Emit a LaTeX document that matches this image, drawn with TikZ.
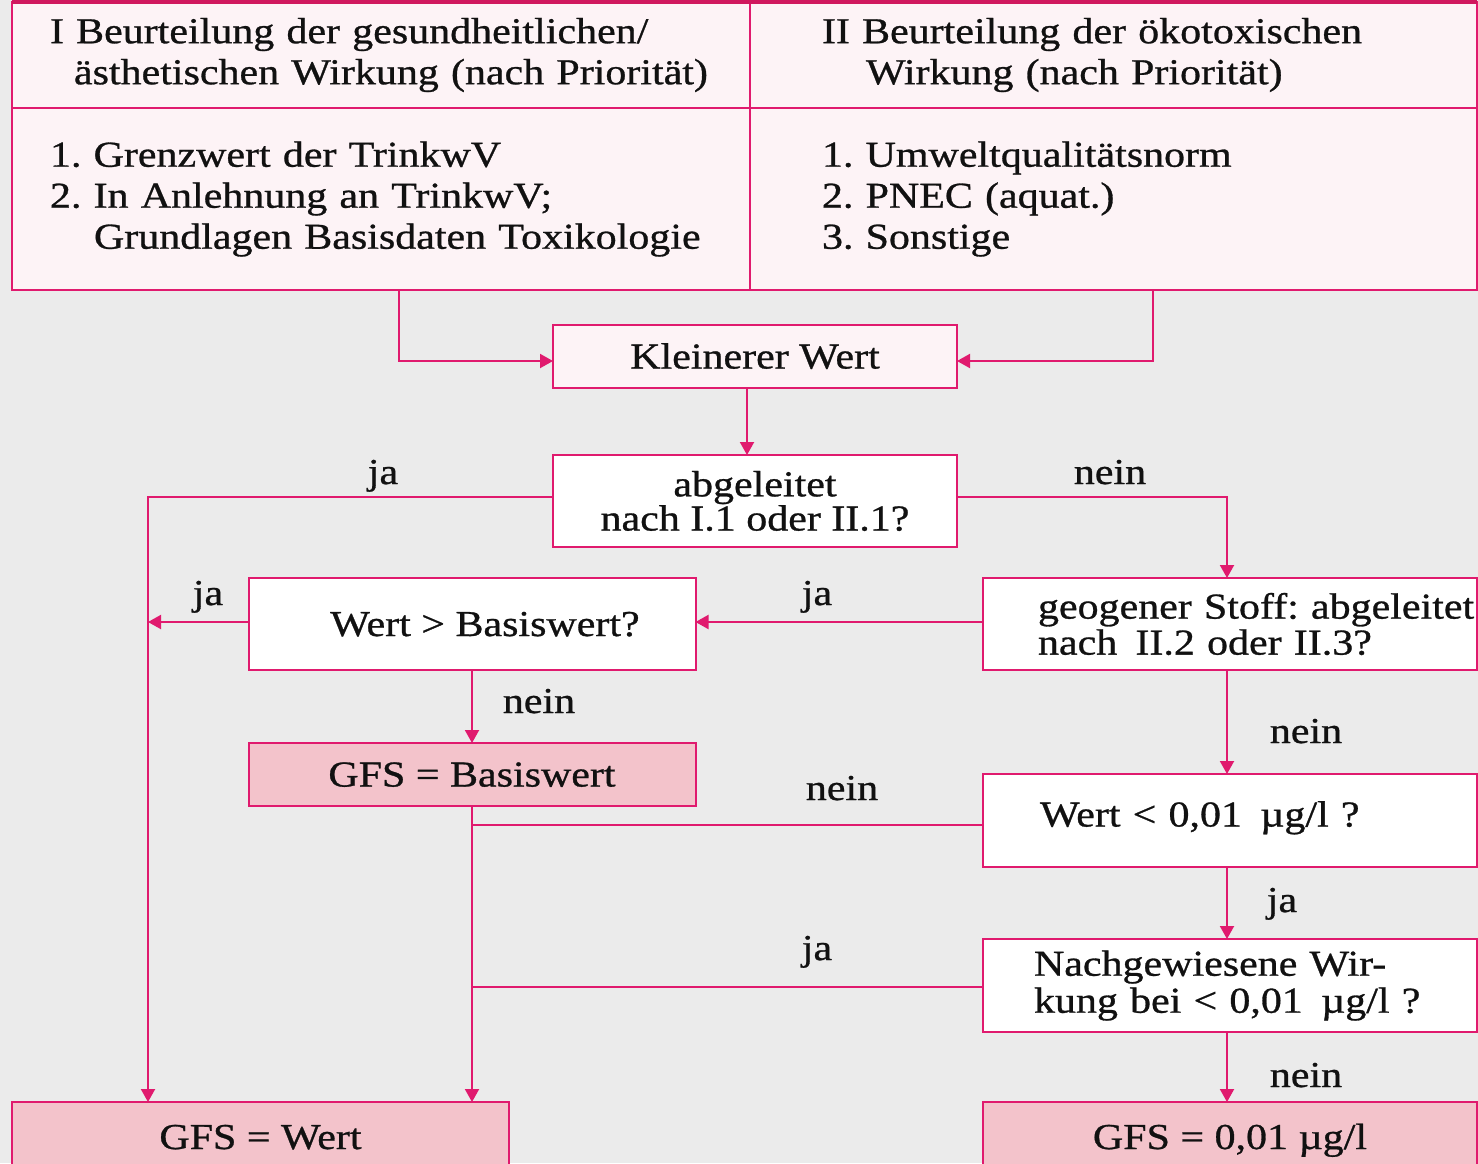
\documentclass[tikz,border=0pt]{standalone}
\usepackage{fontspec}
\setmainfont{Liberation Serif}[FakeStretch=1.15,FakeBold=0.8]
\usetikzlibrary{arrows.meta}
\definecolor{ln}{HTML}{E01A6E}
\definecolor{topln}{HTML}{D0185E}
\definecolor{paper}{HTML}{FDF3F6}
\definecolor{gfs}{HTML}{F3C3CB}
\definecolor{bg}{HTML}{EBEBEB}
\definecolor{ink}{HTML}{111111}
\frenchspacing
\begin{document}
\frenchspacing
\begin{tikzpicture}[x=1pt,y=-1pt,
  every node/.style={font=\fontsize{36.5}{41}\selectfont\frenchspacing, text=ink},
  box/.style={draw=ln, line width=2pt, rectangle, inner sep=0pt, outer sep=0pt},
  cell/.style={box, fill=paper, align=left},
  qbox/.style={box, fill=white},
  res/.style={box, fill=gfs},
  one/.style={text height=24pt, text depth=0pt},
  conn/.style={draw=ln, line width=2pt},
  arr/.style={conn, -{Triangle[length=13pt,width=14pt]}},
  lbl/.style={anchor=base, inner sep=0pt}
]
\useasboundingbox (0,0) rectangle (1478,1163);
\clip (0,0) rectangle (1478,1163);
\fill[bg] (0,0) rectangle (1478,1163);

% top table
\node[cell, minimum width=738pt, minimum height=106pt, text width=662pt] (hI) at (381,55)
  {\mbox{I Beurteilung der gesundheitlichen/}\\\mbox{\hspace*{24pt}ästhetischen Wirkung (nach Priorität)}};
\node[cell, minimum width=727pt, minimum height=106pt, text width=583pt] (hII) at (1113.5,55)
  {\mbox{II Beurteilung der ökotoxischen}\\\mbox{\hspace*{44pt}Wirkung (nach Priorität)}};
\node[cell, minimum width=738pt, minimum height=182pt, text width=662pt] (bI) at (381,199)
  {\mbox{1. Grenzwert der TrinkwV}\\\mbox{2. In Anlehnung an TrinkwV;}\\\mbox{\hspace*{44pt}Grundlagen Basisdaten Toxikologie}};
\node[cell, minimum width=727pt, minimum height=182pt, text width=583pt] (bII) at (1113.5,199)
  {\mbox{1. Umweltqualitätsnorm}\\\mbox{2. PNEC (aquat.)}\\\mbox{3. Sonstige}};
\draw[topln, line width=4pt] (hI.north west) -- (hII.north east);

% flow boxes
\node[box, one, fill=paper, minimum width=404pt, minimum height=63pt] (kw) at (755,356.5) {Kleinerer Wert};
\node[qbox, minimum width=404pt, minimum height=92pt, align=center,
      font=\fontsize{36.5}{33}\selectfont] (abg) at (755,501) {abgeleitet\\nach I.1 oder II.1?};
\node[qbox, one, minimum width=447pt, minimum height=92pt] (wb) at (472,624) {\hspace*{26pt}Wert > Basiswert?};
\node[qbox, minimum width=494pt, minimum height=92pt, text width=384pt, align=left,
      font=\fontsize{36.5}{36}\selectfont] (geo) at (1230,624)
  {\mbox{geogener Stoff: abgeleitet}\\\mbox{nach\enspace II.2 oder II.3?}};
\node[res, one, minimum width=447pt, minimum height=63pt] (gb) at (472,774.5) {GFS = Basiswert};
\node[qbox, minimum width=494pt, minimum height=93pt, text width=380pt, align=left,
      text height=24pt, text depth=12pt] (w001) at (1230,820.5)
  {\mbox{Wert < 0,01\enspace µg/l ?}};
\node[qbox, minimum width=494pt, minimum height=93pt, text width=392pt, align=left,
      font=\fontsize{36.5}{37}\selectfont] (nach) at (1230,985.5)
  {\mbox{Nachgewiesene Wir-}\\\mbox{kung bei < 0,01\enspace µg/l ?}};
\node[res, one, minimum width=497pt, minimum height=70pt] (gw) at (260.5,1137) {GFS = Wert};
\node[res, one, minimum width=494pt, minimum height=70pt] (g001) at (1230,1137) {GFS = 0,01 µg/l};

% junction coordinates
\coordinate (jL) at (148,622);
\coordinate (jN) at (472,825);
\coordinate (jJ) at (472,987);

% connectors
\draw[arr] ([xshift=18pt]bI.south) |- ([yshift=-4.5pt]kw.west);
\draw[arr] ([xshift=39.5pt]bII.south) |- ([yshift=-4.5pt]kw.east);
\draw[arr] ([xshift=-8pt]kw.south) -- ([xshift=-8pt]abg.north);
\draw[arr] ([yshift=4pt]abg.west) -| ([xshift=-112.5pt]gw.north);
\draw[arr] ([yshift=4pt]abg.east) -| ([xshift=-3pt]geo.north);
\draw[arr] ([yshift=2pt]geo.west) -- ([yshift=2pt]wb.east);
\draw[arr] ([yshift=2pt]wb.west) -- (jL);
\draw[arr] (wb.south) -- (gb.north);
\draw[arr] (gb.south) -- (gb.south |- gw.north);
\draw[arr] ([xshift=-3pt]geo.south) -- ([xshift=-3pt]w001.north);
\draw[conn] ([yshift=-4.5pt]w001.west) -- (jN);
\draw[arr] ([xshift=-3pt]w001.south) -- ([xshift=-3pt]nach.north);
\draw[conn] ([yshift=-1.5pt]nach.west) -- (jJ);
\draw[arr] ([xshift=-3pt]nach.south) -- ([xshift=-3pt]g001.north);

% labels
\node[lbl] (l1) at (383,484) {ja};
\node[lbl] (l2) at (1110,484) {nein};
\node[lbl] (l3) at (208,605) {ja};
\node[lbl] (l4) at (817,605) {ja};
\node[lbl] (l5) at (539,713) {nein};
\node[lbl] (l6) at (1306,743) {nein};
\node[lbl] (l7) at (842,800) {nein};
\node[lbl] (l8) at (1282,912) {ja};
\node[lbl] (l9) at (817,960) {ja};
\node[lbl] (l10) at (1306,1087) {nein};
\end{tikzpicture}
\end{document}
